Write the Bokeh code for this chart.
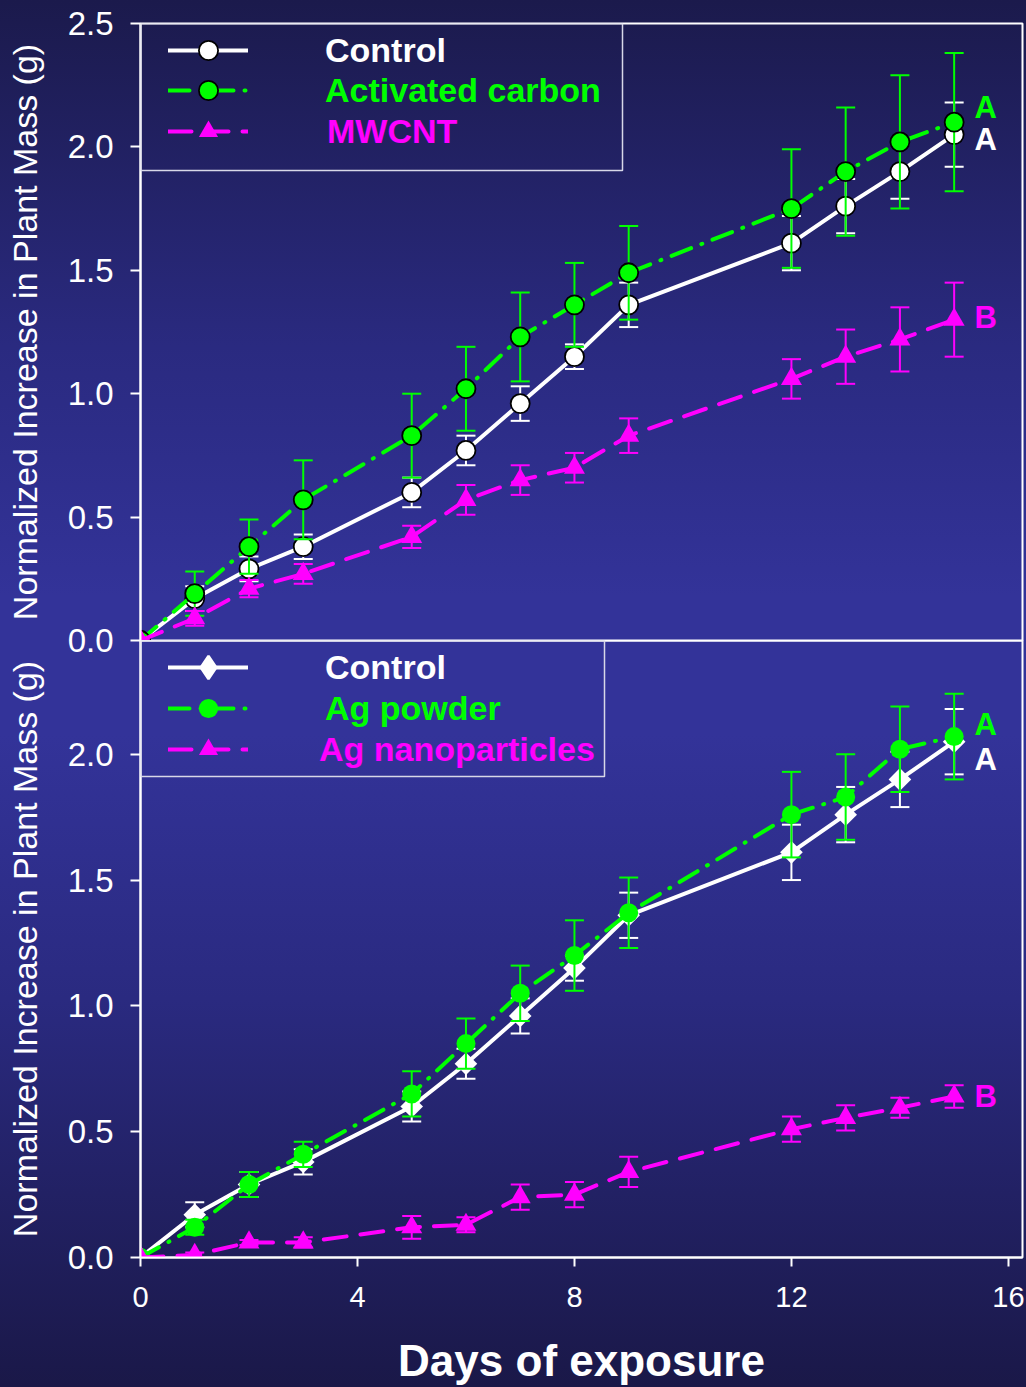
from bokeh.plotting import figure
from bokeh.models import (ColumnDataSource, Legend, LegendItem, BoxAnnotation,
                          FixedTicker, PrintfTickFormatter, Range1d)
from bokeh.layouts import column
from bokeh.core.properties import value
from bokeh.embed import file_html
from bokeh.resources import INLINE
import math

# ---------------- data ----------------
days = [0, 1, 2, 3, 5, 6, 7, 8, 9, 12, 13, 14, 15]

control = [0, 0.17, 0.29, 0.38, 0.60, 0.77, 0.96, 1.15, 1.36, 1.61, 1.76, 1.90, 2.05]
control_err = [0, 0.05, 0.05, 0.05, 0.06, 0.06, 0.07, 0.05, 0.09, 0.11, 0.11, 0.11, 0.13]

activated_carbon = [0, 0.19, 0.38, 0.57, 0.83, 1.02, 1.23, 1.36, 1.49, 1.75, 1.90, 2.02, 2.10]
activated_carbon_err = [0, 0.09, 0.11, 0.16, 0.17, 0.17, 0.18, 0.17, 0.19, 0.24, 0.26, 0.27, 0.28]

mwcnt = [0, 0.09, 0.21, 0.27, 0.42, 0.57, 0.65, 0.70, 0.83, 1.06, 1.15, 1.22, 1.30]
mwcnt_err = [0, 0.03, 0.035, 0.04, 0.045, 0.06, 0.06, 0.06, 0.07, 0.08, 0.11, 0.13, 0.15]

ag_powder = [0, 0.12, 0.29, 0.41, 0.65, 0.85, 1.05, 1.20, 1.37, 1.76, 1.83, 2.02, 2.07]
ag_powder_err = [0, 0.03, 0.05, 0.05, 0.09, 0.10, 0.11, 0.14, 0.14, 0.17, 0.17, 0.17, 0.17]

ag_nano = [0, 0.01, 0.06, 0.06, 0.12, 0.13, 0.24, 0.25, 0.34, 0.51, 0.555, 0.595, 0.64]
ag_nano_err = [0, 0.01, 0.01, 0.02, 0.045, 0.03, 0.05, 0.05, 0.06, 0.05, 0.05, 0.04, 0.045]

top_labels = ["Control", "Activated carbon", "MWCNT"]
bottom_labels = ["Control", "Ag powder", "Ag nanoparticles"]
top_letters = ["A", "A", "B"]        # activated carbon, control, MWCNT
bottom_letters = ["A", "A", "B"]     # Ag powder, control, Ag nanoparticles

x_ticks = [0, 4, 8, 12, 16]
top_y_ticks = [0, 0.5, 1.0, 1.5, 2.0, 2.5]
bottom_y_ticks = [0, 0.5, 1.0, 1.5, 2.0]

# ---------------- style ----------------
FONT = "Liberation Sans"
WHITE = "#ffffff"
GREEN = "#00ff00"
MAGENTA = "#ff00ff"
X_END = 16.26
W = 1026
OVERLAP = 18


def make_fig(height, y_end, y_ticks, border_top, border_bottom, with_x):
    p = figure(width=W, height=height,
               x_range=Range1d(0, X_END), y_range=Range1d(0, y_end),
               output_backend="svg", toolbar_location=None,
               x_axis_location="below" if with_x else None,
               min_border_left=140, min_border_right=4,
               min_border_top=border_top, min_border_bottom=border_bottom)
    p.background_fill_alpha = 0
    p.border_fill_alpha = 0
    p.outline_line_color = WHITE
    p.outline_line_width = 2
    p.outline_line_alpha = 1
    p.xgrid.visible = False
    p.ygrid.visible = False

    ya = p.yaxis[0]
    ya.ticker = FixedTicker(ticks=y_ticks)
    ya.formatter = PrintfTickFormatter(format="%.1f")
    ya.axis_label = "Normalized Increase in Plant Mass (g)"
    ya.axis_label_text_font = FONT
    ya.axis_label_text_font_style = "normal"
    ya.axis_label_text_font_size = "34px"
    ya.axis_label_text_color = WHITE
    ya.axis_label_standoff = 21
    ya.major_label_text_font = FONT
    ya.major_label_text_font_size = "33px"
    ya.major_label_text_color = WHITE
    ya.major_label_standoff = 17
    ya.axis_line_color = WHITE
    ya.axis_line_width = 2
    ya.major_tick_line_color = WHITE
    ya.major_tick_line_width = 2
    ya.major_tick_out = 10
    ya.major_tick_in = 0
    ya.minor_tick_line_color = None

    if with_x:
        xa = p.xaxis[0]
        xa.ticker = FixedTicker(ticks=x_ticks)
        xa.axis_label = "Days of exposure"
        xa.axis_label_text_font = FONT
        xa.axis_label_text_font_style = "bold"
        xa.axis_label_text_font_size = "44px"
        xa.axis_label_text_color = WHITE
        xa.axis_label_standoff = 26
        xa.major_label_text_font = FONT
        xa.major_label_text_font_size = "29px"
        xa.major_label_text_color = WHITE
        xa.major_label_standoff = 20
        xa.axis_line_color = WHITE
        xa.axis_line_width = 2
        xa.major_tick_line_color = WHITE
        xa.major_tick_line_width = 2
        xa.major_tick_out = 9
        xa.major_tick_in = 0
        xa.minor_tick_line_color = None
    return p


def add_series(p, y, err, color, dash, marker, size, outline, angle=0.0):
    src = ColumnDataSource(dict(
        x=days, y=y,
        lo=[a - b for a, b in zip(y, err)],
        hi=[a + b for a, b in zip(y, err)],
    ))
    ln = p.line("x", "y", source=src, line_color=color, line_width=4,
                line_dash=dash, line_cap="round")
    p.segment("x", "lo", "x", "hi", source=src, line_color=color, line_width=2)
    p.scatter("x", "lo", source=src, marker="dash", size=19,
              line_color=color, line_width=2)
    p.scatter("x", "hi", source=src, marker="dash", size=19,
              line_color=color, line_width=2)
    mk = p.scatter("x", "y", source=src, marker=marker, size=size, angle=angle,
                   fill_color=color,
                   line_color=outline if outline else None,
                   line_width=1.8 if outline else 0)
    return ln, mk


def add_legend(p, label, renderers, color, y_center, standoff, gh=48):
    lg = Legend(items=[LegendItem(label=label, renderers=list(renderers))],
                location=(28, y_center - gh / 2),
                glyph_width=80, glyph_height=gh,
                label_standoff=standoff, padding=0, margin=0, spacing=0,
                label_text_font=FONT, label_text_font_style="bold",
                label_text_font_size="34px", label_text_color=color,
                border_line_alpha=0, background_fill_alpha=0)
    p.add_layout(lg)


def add_box(p, right_px, bottom_px, y_top):
    box = BoxAnnotation(left=0, left_units="data",
                        top=y_top, top_units="data",
                        right=right_px, right_units="screen",
                        bottom=bottom_px, bottom_units="screen",
                        fill_alpha=0, line_color="#d8d8e8", line_width=1.5,
                        line_alpha=1)
    p.add_layout(box)


def add_letters(p, letters, ys, colors):
    src = ColumnDataSource(dict(x=[days[-1] + 0.58] * len(letters), y=ys,
                                t=letters, c=colors))
    p.text("x", "y", text="t", source=src, text_color="c",
           text_font=value(FONT), text_font_style="bold",
           text_font_size="31px", text_align="center",
           text_baseline="middle")


GREEN_DASH = "21 11 1 11"
MAG_DASH = "23 14"

# ---------------- top panel ----------------
p1 = make_fig(640 + OVERLAP, 2.5, top_y_ticks, 23, OVERLAP, False)
c_l, c_m = add_series(p1, control, control_err, WHITE, "solid", "circle", 19, "black")
a_l, a_m = add_series(p1, activated_carbon, activated_carbon_err, GREEN, GREEN_DASH, "circle", 19, "black")
m_l, m_m = add_series(p1, mwcnt, mwcnt_err, MAGENTA, MAG_DASH, "triangle", 21, None)

add_box(p1, 482, 470, 2.5)
add_legend(p1, top_labels[0], [c_l, c_m], WHITE, 590, 77)
add_legend(p1, top_labels[1], [a_l, a_m], GREEN, 550, 77)
add_legend(p1, top_labels[2], [m_l, m_m], MAGENTA, 509, 79)
add_letters(p1, top_letters,
            [activated_carbon[-1] + 0.06, control[-1] - 0.02, mwcnt[-1] + 0.01],
            [GREEN, WHITE, MAGENTA])

# ---------------- bottom panel ----------------
p2 = make_fig(1387 - 640, 2.452, bottom_y_ticks, 0, 129, True)
p2.styles = {"margin-top": f"-{OVERLAP}px"}
c2_l, c2_m = add_series(p2, control, control_err, WHITE, "solid", "square", 16, None, math.pi / 4)
g2_l, g2_m = add_series(p2, ag_powder, ag_powder_err, GREEN, GREEN_DASH, "circle", 19, None)
n2_l, n2_m = add_series(p2, ag_nano, ag_nano_err, MAGENTA, MAG_DASH, "triangle", 21, None)
# legend-only diamond sample (the legend does not rotate markers); NaN keeps it off the plot
nan = float("nan")
c2_key = p2.scatter(x=[nan], y=[nan], marker="diamond", size=20,
                    fill_color=WHITE, line_color=WHITE, line_width=2.5)

add_box(p2, 464, 481, 2.452)
add_legend(p2, bottom_labels[0], [c2_l, c2_key], WHITE, 590, 77, gh=58)
add_legend(p2, bottom_labels[1], [g2_l, g2_m], GREEN, 549, 77)
add_legend(p2, bottom_labels[2], [n2_l, n2_m], MAGENTA, 508, 71)
add_letters(p2, bottom_letters,
            [ag_powder[-1] + 0.05, control[-1] - 0.07, ag_nano[-1]],
            [GREEN, WHITE, MAGENTA])

layout = column(p1, p2, spacing=0, styles={
    "background": "linear-gradient(180deg, #1b1a4c 0%, #2a2a80 25%, #333399 43%, "
                  "#333399 53%, #2a2a80 72%, #1a1848 100%)"})

open("out.html", "w").write(file_html(layout, INLINE))
